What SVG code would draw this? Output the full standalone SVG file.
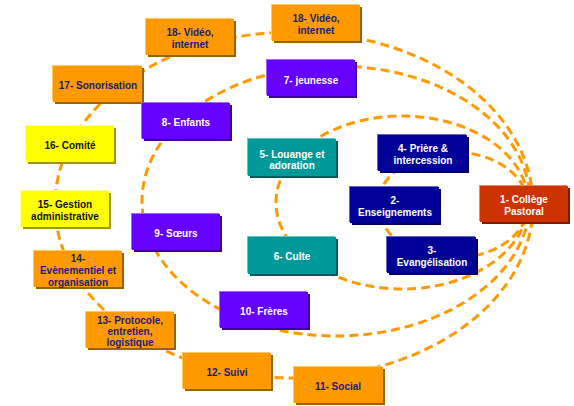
<svg xmlns="http://www.w3.org/2000/svg" width="574" height="406" viewBox="0 0 574 406">
<style>
.arc{fill:none;stroke:#FF9900;stroke-width:3;stroke-dasharray:9 5}
text{font-family:"Liberation Sans",Arial,sans-serif;font-weight:bold;font-size:10px;text-anchor:middle}
.or .m{fill:#FF9900}.or .s{fill:#9C6200}.or .l{fill:#FFC966}.or text{fill:#1C1C7C}
.ye .m{fill:#FFFF00}.ye .s{fill:#9A9A00}.ye .l{fill:#FFFF99}.ye text{fill:#111111}
.pu .m{fill:#6600FF}.pu .s{fill:#3D0099}.pu .l{fill:#A366FF}.pu text{fill:#FFFFFF}
.te .m{fill:#009999}.te .s{fill:#005C5C}.te .l{fill:#66C2C2}.te text{fill:#FFFFFF}
.na .m{fill:#000099}.na .s{fill:#00005C}.na .l{fill:#6666C2}.na text{fill:#FFFFFF}
.re .m{fill:#CC3300}.re .s{fill:#7A1F00}.re .l{fill:#E68566}.re text{fill:#FFFFFF}
</style>
<rect width="574" height="406" fill="#FFFFFF"/>
<g id="connectors">
<ellipse class="arc" cx="294" cy="205" rx="239" ry="173"/>
<ellipse class="arc" cx="336" cy="201" rx="194" ry="135"/>
<ellipse class="arc" cx="402" cy="202.5" rx="126" ry="86.5"/>
<ellipse class="arc" cx="453" cy="205" rx="75" ry="53"/>
</g>
<g id="n18a" class="or"><rect class="l" x="145" y="18" width="88" height="36"/><rect class="s" x="148" y="21" width="88" height="36"/><rect class="m" x="146" y="19" width="88" height="36"/><text x="190" y="36">18- Vidéo,</text><text x="190" y="48">internet</text></g>
<g id="n18b" class="or"><rect class="l" x="271" y="4" width="88" height="36"/><rect class="s" x="274" y="7" width="88" height="36"/><rect class="m" x="272" y="5" width="88" height="36"/><text x="316" y="22">18- Vidéo,</text><text x="316" y="34">internet</text></g>
<g id="n17" class="or"><rect class="l" x="52" y="65" width="89" height="36"/><rect class="s" x="55" y="68" width="89" height="36"/><rect class="m" x="53" y="66" width="89" height="36"/><text x="98" y="89">17- Sonorisation</text></g>
<g id="n7" class="pu"><rect class="l" x="266" y="59" width="88" height="36"/><rect class="s" x="269" y="62" width="88" height="36"/><rect class="m" x="267" y="60" width="88" height="36"/><text x="311" y="84">7- jeunesse</text></g>
<g id="n8" class="pu"><rect class="l" x="141" y="102" width="88" height="36"/><rect class="s" x="144" y="105" width="88" height="36"/><rect class="m" x="142" y="103" width="88" height="36"/><text x="186" y="126">8- Enfants</text></g>
<g id="n16" class="ye"><rect class="l" x="25" y="125" width="88" height="36"/><rect class="s" x="28" y="128" width="88" height="36"/><rect class="m" x="26" y="126" width="88" height="36"/><text x="70" y="149">16- Comité</text></g>
<g id="n15" class="ye"><rect class="l" x="20" y="190" width="88" height="36"/><rect class="s" x="23" y="193" width="88" height="36"/><rect class="m" x="21" y="191" width="88" height="36"/><text x="65" y="208">15- Gestion</text><text x="65" y="220">administrative</text></g>
<g id="n14" class="or"><rect class="l" x="33" y="250" width="88" height="36"/><rect class="s" x="36" y="253" width="88" height="36"/><rect class="m" x="34" y="251" width="88" height="36"/><text x="78" y="261.5">14-</text><text x="78" y="273.5">Evènementiel et</text><text x="78" y="285.5">organisation</text></g>
<g id="n13" class="or"><rect class="l" x="85" y="311" width="88" height="36"/><rect class="s" x="88" y="314" width="88" height="36"/><rect class="m" x="86" y="312" width="88" height="36"/><text x="130" y="323.5">13- Protocole,</text><text x="130" y="334.5">entretien,</text><text x="130" y="345.5">logistique</text></g>
<g id="n12" class="or"><rect class="l" x="182" y="352" width="88" height="36"/><rect class="s" x="185" y="355" width="88" height="36"/><rect class="m" x="183" y="353" width="88" height="36"/><text x="227" y="376">12- Suivi</text></g>
<g id="n11" class="or"><rect class="l" x="293" y="366" width="89" height="36"/><rect class="s" x="296" y="369" width="89" height="36"/><rect class="m" x="294" y="367" width="89" height="36"/><text x="338" y="390">11- Social</text></g>
<g id="n10" class="pu"><rect class="l" x="219" y="291" width="88" height="36"/><rect class="s" x="222" y="294" width="88" height="36"/><rect class="m" x="220" y="292" width="88" height="36"/><text x="264" y="315">10- Frères</text></g>
<g id="n9" class="pu"><rect class="l" x="131" y="213" width="88" height="36"/><rect class="s" x="134" y="216" width="88" height="36"/><rect class="m" x="132" y="214" width="88" height="36"/><text x="176" y="237">9- Sœurs</text></g>
<g id="n5" class="te"><rect class="l" x="247" y="138" width="88" height="37"/><rect class="s" x="250" y="141" width="88" height="37"/><rect class="m" x="248" y="139" width="88" height="37"/><text x="292" y="157.5">5- Louange et</text><text x="292" y="169">adoration</text></g>
<g id="n6" class="te"><rect class="l" x="247" y="236" width="88" height="37"/><rect class="s" x="250" y="239" width="88" height="37"/><rect class="m" x="248" y="237" width="88" height="37"/><text x="292" y="260">6- Culte</text></g>
<g id="n4" class="na"><rect class="l" x="377" y="134" width="89" height="36"/><rect class="s" x="380" y="137" width="89" height="36"/><rect class="m" x="378" y="135" width="89" height="36"/><text x="423" y="152">4- Prière &amp;</text><text x="423" y="164">intercession</text></g>
<g id="n2" class="na"><rect class="l" x="349" y="186" width="89" height="36"/><rect class="s" x="352" y="189" width="89" height="36"/><rect class="m" x="350" y="187" width="89" height="36"/><text x="395" y="203.5">2-</text><text x="395" y="215.5">Enseignements</text></g>
<g id="n3" class="na"><rect class="l" x="386" y="236" width="89" height="36"/><rect class="s" x="389" y="239" width="89" height="36"/><rect class="m" x="387" y="237" width="89" height="36"/><text x="432" y="254">3-</text><text x="432" y="266">Evangélisation</text></g>
<g id="n1" class="re"><rect class="l" x="479" y="185" width="88" height="36"/><rect class="s" x="482" y="188" width="88" height="36"/><rect class="m" x="480" y="186" width="88" height="36"/><text x="524" y="203">1- Collège</text><text x="524" y="215">Pastoral</text></g>
</svg>
